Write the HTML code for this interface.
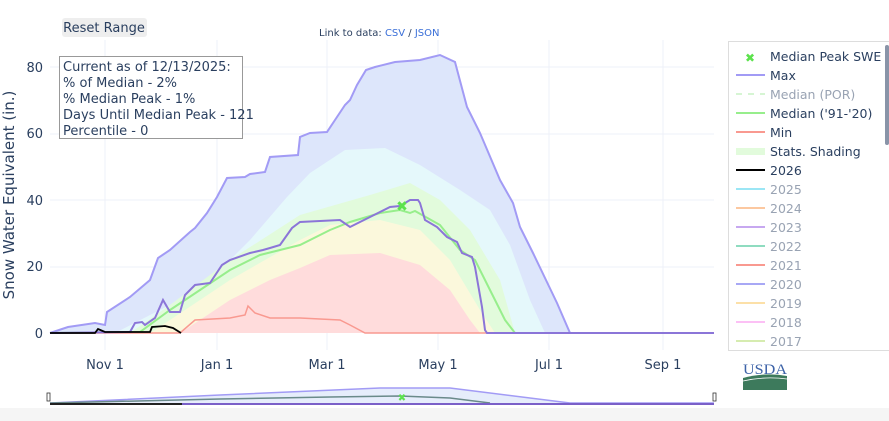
<!DOCTYPE html>
<html><head><meta charset="utf-8"><style>
body{margin:0;background:#fff;font-family:"Liberation Sans","DejaVu Sans",sans-serif;}
svg text{font-family:"DejaVu Sans","Liberation Sans",sans-serif;}
</style></head><body>
<svg width="889" height="421" xmlns="http://www.w3.org/2000/svg" style="display:block">
<rect x="0" y="408" width="889" height="13" fill="#f5f5f5"/>
<g stroke="#edf1f9" stroke-width="1">
<line x1="105" y1="40" x2="105" y2="350"/><line x1="217" y1="40" x2="217" y2="350"/>
<line x1="327" y1="40" x2="327" y2="350"/><line x1="438" y1="40" x2="438" y2="350"/>
<line x1="549" y1="40" x2="549" y2="350"/><line x1="663" y1="40" x2="663" y2="350"/>
<line x1="50" y1="267" x2="714" y2="267"/><line x1="50" y1="200" x2="714" y2="200"/>
<line x1="50" y1="134" x2="714" y2="134"/><line x1="50" y1="67" x2="714" y2="67"/>
</g>
<polygon fill="#dde6fb" points="50,333 68,327 95,323 105,325 107,312 130,297 150,280 158,258 170,250 190,232 195,228 207,213 217,197 227,178 245,177 250,174 265,172 270,157 298,155 300,137 310,133 327,132 335,120 345,105 350,100 357,85 366,70 375,67 395,62 420,60 440,55 455,62 467,107 480,133 500,180 513,203 520,227 533,253 557,303 570,333"/>
<polygon fill="#e5f8fb" points="50,333 115,333 150,315 200,290 250,240 287,197 310,173 345,150 385,148 420,165 460,190 490,210 510,245 530,300 545,333"/>
<polygon fill="#e2fbdc" points="50,333 130,333 170,305 230,260 300,215 370,195 410,183 440,200 470,230 500,280 515,333"/>
<polygon fill="#fbf8dc" points="50,333 150,333 170,320 230,280 300,240 330,225 380,220 420,230 450,260 480,310 495,333"/>
<polygon fill="#ffdcdc" points="50,333 180,333 200,320 230,300 270,280 300,268 330,255 380,253 420,265 450,290 470,320 480,333"/>
<polyline fill="none" stroke="#a29bf5" stroke-width="2" points="50,333 68,327 95,323 105,325 107,312 130,297 150,280 158,258 170,250 190,232 195,228 207,213 217,197 227,178 245,177 250,174 265,172 270,157 298,155 300,137 310,133 327,132 335,120 345,105 350,100 357,85 366,70 375,67 395,62 420,60 440,55 455,62 467,107 480,133 500,180 513,203 520,227 533,253 557,303 570,333 714,333"/>
<polyline fill="none" stroke="#97ee8c" stroke-width="2" points="50,333 140,332 170,310 200,290 230,270 260,255 300,245 330,230 350,222 380,213 400,210 410,213 415,211 440,225 460,250 475,260 490,290 505,320 515,333 714,333"/>
<polyline fill="none" stroke="#f99990" stroke-width="1.5" points="50,333 180,333 195,320 230,318 245,315 248,306 255,313 270,318 300,318 340,320 350,325 365,333 714,333"/>
<polyline fill="none" stroke="#8b75d8" stroke-width="2" points="50,333 130,332 135,323 142,322 145,325 155,318 163,300 170,312 180,312 185,295 195,285 210,283 222,265 230,260 250,253 263,250 270,248 280,245 292,228 300,222 340,220 350,227 380,212 390,207 400,206 410,200 418,200 420,203 425,220 437,227 447,237 457,242 462,253 472,257 475,267 482,307 485,330 487,333 714,333"/>
<polyline fill="none" stroke="#000" stroke-width="1.8" points="50,333 95,333 98,329 105,332 150,332 152,327 165,326 173,328 181,333"/>
<text x="402" y="211" font-size="14" fill="#5ce24d" text-anchor="middle" font-weight="bold">✖</text>
<g font-size="13" fill="#2a3f5f" text-anchor="end">
<text x="43" y="338">0</text><text x="43" y="271">20</text><text x="43" y="205">40</text><text x="43" y="138">60</text><text x="43" y="72">80</text>
</g>
<g font-size="13" fill="#2a3f5f" text-anchor="middle">
<text x="105" y="369">Nov 1</text><text x="217" y="369">Jan 1</text><text x="327" y="369">Mar 1</text><text x="438" y="369">May 1</text><text x="549" y="369">Jul 1</text><text x="663" y="369">Sep 1</text>
</g>
<text transform="translate(14,195) rotate(-90)" font-size="15" fill="#2a3f5f" text-anchor="middle">Snow Water Equivalent (in.)</text>
<polygon fill="#e6edfb" points="50,403 220,395 380,388 450,388 570,403"/>
<polyline fill="none" stroke="#a29bf5" stroke-width="1.5" points="50,403 220,395 380,388 450,388 570,403 714,403"/>
<polyline fill="none" stroke="#6a8a8a" stroke-width="1.5" points="50,403 220,399 330,397 400,396 450,398 490,403"/>
<line x1="50" y1="404" x2="714" y2="404" stroke="#7a60c8" stroke-width="2"/>
<line x1="50" y1="404" x2="182" y2="404" stroke="#222" stroke-width="2"/>
<text x="402" y="401" font-size="10" fill="#5ce24d" text-anchor="middle">✖</text>
<rect x="47" y="393" width="3" height="8" fill="#fff" stroke="#333" stroke-width="0.8"/>
<rect x="713" y="393" width="3" height="8" fill="#fff" stroke="#333" stroke-width="0.8"/>
<rect x="62" y="18" width="85" height="19" rx="3" fill="#eee"/>
<text x="104" y="32" font-size="13" fill="#2a3f5f" text-anchor="middle">Reset Range</text>
<text x="319" y="36" font-size="10" fill="#2a3f5f">Link to data: <tspan fill="#3a6fd8">CSV</tspan> / <tspan fill="#3a6fd8">JSON</tspan></text>
<rect x="59.5" y="56.5" width="183" height="82" fill="#fff" stroke="#999"/>
<g font-size="13" fill="#2a3f5f">
<text x="63" y="71">Current as of 12/13/2025:</text>
<text x="63" y="87">% of Median - 2%</text>
<text x="63" y="103">% Median Peak - 1%</text>
<text x="63" y="119">Days Until Median Peak - 121</text>
<text x="63" y="135">Percentile - 0</text>
</g>
<rect x="728.5" y="41.5" width="165" height="309" fill="#fff" stroke="#ddd"/>
<rect x="885" y="45" width="4" height="100" rx="2" fill="#8994a8"/>
<g font-size="12.5">
<text x="750" y="62" font-size="12" fill="#5ce24d" text-anchor="middle">✖</text><text x="770" y="61" fill="#2a3f5f">Median Peak SWE</text>
<line x1="736" y1="75" x2="765" y2="75" stroke="#a29bf5" stroke-width="2"/><text x="770" y="80" fill="#2a3f5f">Max</text>
<line x1="736" y1="94" x2="765" y2="94" stroke="#d6f5d3" stroke-width="2" stroke-dasharray="6,6"/><text x="770" y="99" fill="#99a3b3">Median (POR)</text>
<line x1="736" y1="113" x2="765" y2="113" stroke="#97ee8c" stroke-width="2"/><text x="770" y="118" fill="#2a3f5f">Median ('91-'20)</text>
<line x1="736" y1="132" x2="765" y2="132" stroke="#f99990" stroke-width="2"/><text x="770" y="137" fill="#2a3f5f">Min</text>
<rect x="736" y="148" width="29" height="7" fill="#e2fbdc"/><text x="770" y="156" fill="#2a3f5f">Stats. Shading</text>
<line x1="736" y1="170" x2="765" y2="170" stroke="#000" stroke-width="2"/><text x="770" y="175" fill="#2a3f5f">2026</text>
<line x1="736" y1="189" x2="765" y2="189" stroke="#9be6f5" stroke-width="2"/><text x="770" y="194" fill="#99a3b3">2025</text>
<line x1="736" y1="208" x2="765" y2="208" stroke="#fcc8a0" stroke-width="2"/><text x="770" y="213" fill="#99a3b3">2024</text>
<line x1="736" y1="227" x2="765" y2="227" stroke="#c7a8f0" stroke-width="2"/><text x="770" y="232" fill="#99a3b3">2023</text>
<line x1="736" y1="246" x2="765" y2="246" stroke="#8fdcc0" stroke-width="2"/><text x="770" y="251" fill="#99a3b3">2022</text>
<line x1="736" y1="265" x2="765" y2="265" stroke="#f99990" stroke-width="2"/><text x="770" y="270" fill="#99a3b3">2021</text>
<line x1="736" y1="284" x2="765" y2="284" stroke="#a8a8f5" stroke-width="2"/><text x="770" y="289" fill="#99a3b3">2020</text>
<line x1="736" y1="303" x2="765" y2="303" stroke="#fce0a8" stroke-width="2"/><text x="770" y="308" fill="#99a3b3">2019</text>
<line x1="736" y1="322" x2="765" y2="322" stroke="#fcc0f5" stroke-width="2"/><text x="770" y="327" fill="#99a3b3">2018</text>
<line x1="736" y1="341" x2="765" y2="341" stroke="#d6ecb0" stroke-width="2"/><text x="770" y="346" fill="#99a3b3">2017</text>
</g>
<text x="743" y="374" font-size="15" fill="#3d63a8" textLength="44" lengthAdjust="spacingAndGlyphs" style="font-family:'Liberation Serif',serif">USDA</text>
<path d="M743 378 Q765 372 787 376 L787 390 L743 390 Z" fill="#3d7a5c"/>
<path d="M743 381 Q765 376 787 379" fill="none" stroke="#fff" stroke-width="0.8"/>
</svg>
</body></html>
